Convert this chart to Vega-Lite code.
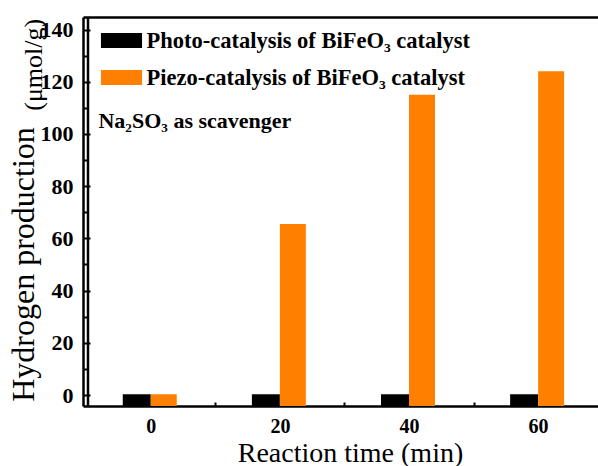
{
  "$schema": "https://vega.github.io/schema/vega-lite/v6.json",
  "width": 515,
  "height": 389,
  "autosize": {"type": "none"},
  "padding": {"left": 83, "top": 17, "right": 0, "bottom": 60},
  "background": "white",
  "config": {
    "view": {"stroke": null},
    "font": "Liberation Serif",
    "axis": {"domainColor": "black", "tickColor": "black", "labelColor": "black", "titleColor": "black", "grid": false, "domainWidth": 2.5, "tickWidth": 2}
  },
  "datasets": {
    "bars": [
      {"time": 0, "kind": "photo", "series": "Photo-catalysis of BiFeO₃ catalyst", "value": 0.3},
      {"time": 20, "kind": "photo", "series": "Photo-catalysis of BiFeO₃ catalyst", "value": 0.3},
      {"time": 40, "kind": "photo", "series": "Photo-catalysis of BiFeO₃ catalyst", "value": 0.3},
      {"time": 60, "kind": "photo", "series": "Photo-catalysis of BiFeO₃ catalyst", "value": 0.3},
      {"time": 0, "kind": "piezo", "series": "Piezo-catalysis of BiFeO₃ catalyst", "value": 0.3},
      {"time": 20, "kind": "piezo", "series": "Piezo-catalysis of BiFeO₃ catalyst", "value": 65.5},
      {"time": 40, "kind": "piezo", "series": "Piezo-catalysis of BiFeO₃ catalyst", "value": 115},
      {"time": 60, "kind": "piezo", "series": "Piezo-catalysis of BiFeO₃ catalyst", "value": 124}
    ]
  },
  "resolve": {"axis": {"x": "independent", "y": "independent"}},
  "layer": [
    {
      "data": {"name": "bars"},
      "transform": [{"filter": "datum.kind === 'photo'"}],
      "mark": {"type": "bar", "width": 28, "xOffset": -14},
      "encoding": {
        "x": {
          "field": "time", "type": "quantitative",
          "scale": {"domain": [-9.72, 68.5], "nice": false, "zero": false},
          "axis": {
            "orient": "bottom", "domain": true,
            "values": [0, 20, 40, 60], "ticks": false, "labelFont": "Liberation Serif", "labelFontSize": 20, "labelFontWeight": "bold", "labelPadding": 10,
            "title": "Reaction time (min)", "titleFont": "Liberation Serif", "titleFontSize": 28, "titleFontWeight": "normal",
            "titleX": 267, "titleY": 55, "titleAlign": "center", "titleBaseline": "alphabetic", "titleAnchor": null
          }
        },
        "y": {
          "field": "value", "type": "quantitative",
          "scale": {"domain": [-4.2, 144.8], "nice": false, "zero": false},
          "axis": {
            "orient": "left", "domain": true,
            "values": [0, 20, 40, 60, 80, 100, 120, 140], "ticks": false, "labelFont": "Liberation Serif", "labelFontSize": 22, "labelFontWeight": "bold", "labelPadding": 10,
            "title": "Hydrogen production", "titleFont": "Liberation Serif", "titleFontSize": 32, "titleFontWeight": "normal",
            "titleX": -50, "titleY": 247, "titleAngle": 270, "titleAlign": "center", "titleBaseline": "alphabetic"
          }
        },
        "y2": {"datum": -4.2},
        "color": {
          "field": "series", "type": "nominal",
          "scale": {"domain": ["Photo-catalysis of BiFeO₃ catalyst", "Piezo-catalysis of BiFeO₃ catalyst"], "range": ["#000000", "#FF8000"]},
          "legend": {
            "orient": "none", "legendX": 23.5, "legendY": 8.5, "title": null, "padding": 0,
            "symbolType": "M-1.37,-0.5H1.37V0.5H-1.37Z", "symbolSize": 900, "symbolStrokeWidth": 0, "symbolOpacity": 1,
            "labelFont": "Liberation Serif", "labelFontSize": 22.5, "labelFontWeight": "bold", "labelColor": "black",
            "labelOffset": 10, "rowPadding": 10, "labelLimit": 500
          }
        }
      }
    },
    {
      "data": {"name": "bars"},
      "transform": [{"filter": "datum.kind === 'piezo'"}],
      "mark": {"type": "bar", "width": 26, "xOffset": 13},
      "encoding": {
        "x": {
          "field": "time", "type": "quantitative",
          "axis": {"orient": "bottom", "values": [10, 30, 50], "labels": false, "domain": false, "tickSize": -4, "title": null}
        },
        "y": {
          "field": "value", "type": "quantitative",
          "axis": {"orient": "left", "values": [0, 20, 40, 60, 80, 100, 120, 140], "labels": false, "domain": false, "tickSize": -7, "title": null}
        },
        "y2": {"datum": -4.2},
        "color": {"field": "series", "type": "nominal", "legend": null}
      }
    },
    {
      "data": {"values": [{"note": "Na₂SO₃ as scavenger"}]},
      "mark": {"type": "text", "align": "left", "baseline": "alphabetic", "font": "Liberation Serif", "fontSize": 22, "fontWeight": "bold", "color": "black"},
      "encoding": {
        "x": {"datum": -8.1, "type": "quantitative", "axis": {"orient": "top", "labels": false, "ticks": false, "domain": true, "title": null}},
        "y": {"datum": 102.3, "type": "quantitative", "axis": {"orient": "left", "values": [10, 30, 50, 70, 90, 110, 130], "labels": false, "domain": false, "tickSize": -4, "title": null}},
        "text": {"field": "note"}
      }
    },
    {
      "data": {"values": [{"edge": "left"}]},
      "mark": {"type": "rule", "color": "black", "strokeWidth": 2.5},
      "encoding": {
        "x": {"datum": -9.72, "type": "quantitative", "axis": null},
        "y": {"datum": -4.2, "type": "quantitative", "axis": null},
        "y2": {"datum": 144.8}
      }
    },
    {
      "data": {"values": [{"unit": "(μmol/g)"}]},
      "mark": {"type": "text", "align": "center", "baseline": "alphabetic", "angle": 270, "font": "Liberation Serif", "fontSize": 26, "color": "black"},
      "encoding": {
        "x": {"datum": -16.9, "type": "quantitative", "axis": null},
        "y": {"datum": 126.5, "type": "quantitative", "axis": null},
        "text": {"field": "unit"}
      }
    }
  ]
}
